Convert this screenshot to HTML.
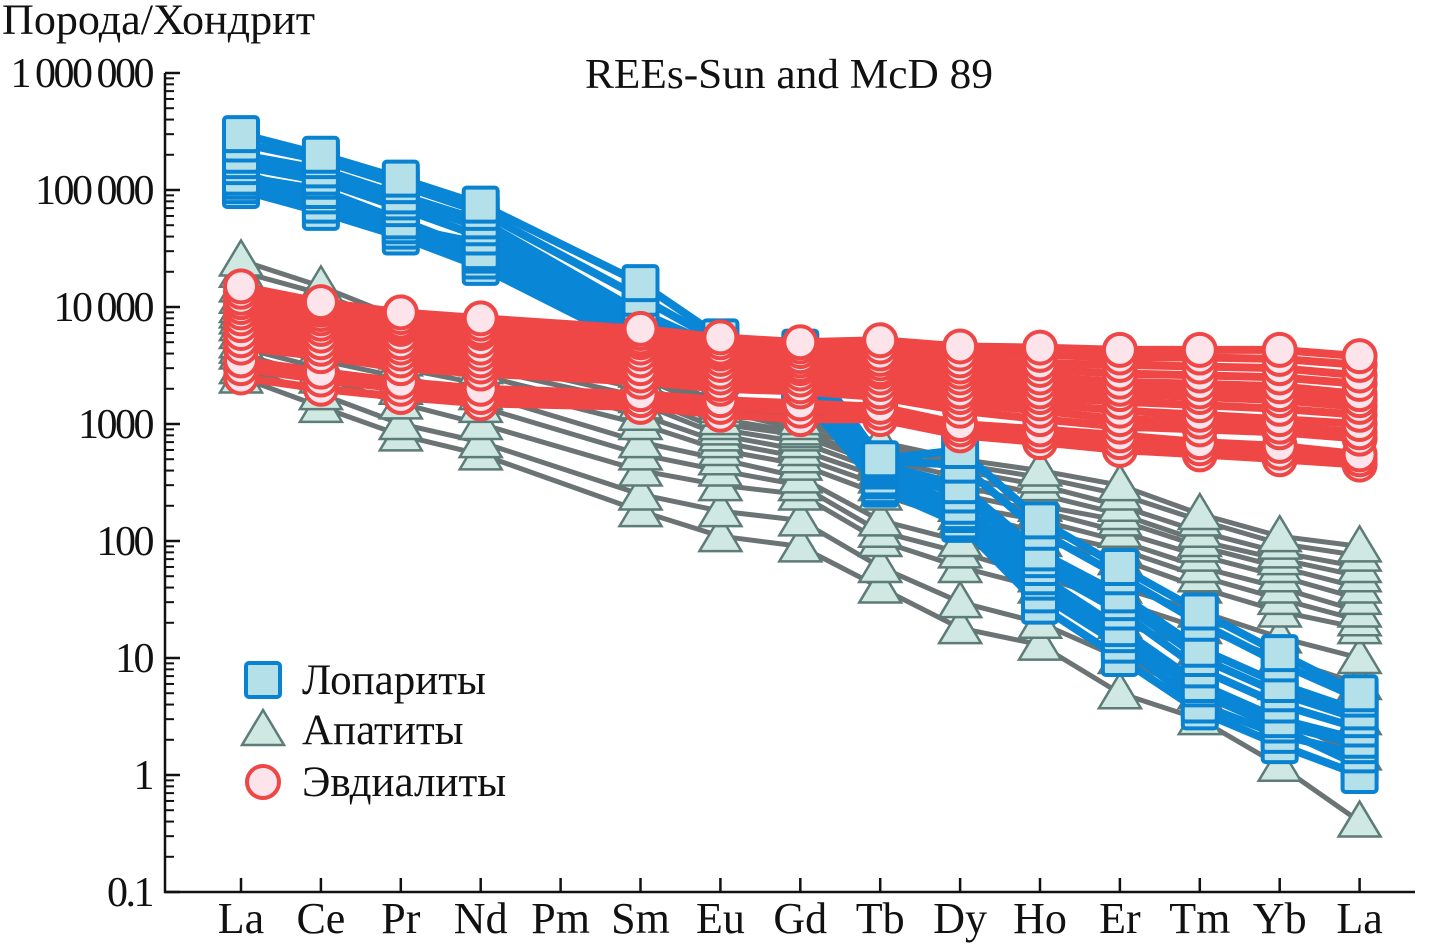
<!DOCTYPE html>
<html><head><meta charset="utf-8"><style>
body{margin:0;background:#fff;width:1450px;height:945px;overflow:hidden}
svg text{font-family:"Liberation Serif","DejaVu Serif",serif;fill:#111}
</style></head><body>
<svg id="chart" width="1450" height="945" viewBox="0 0 1450 945" xmlns="http://www.w3.org/2000/svg">
<text x="2" y="34" font-size="43" textLength="313" lengthAdjust="spacingAndGlyphs">Порода/Хондрит</text>
<text x="585" y="88" font-size="42" textLength="408" lengthAdjust="spacingAndGlyphs">REEs-Sun and McD 89</text>
<g id="axes"></g><g id="gray"></g><g id="blue"></g><g id="red"></g><g id="legend"></g>
</svg>
<script>
const categories=["La","Ce","Pr","Nd","Pm","Sm","Eu","Gd","Tb","Dy","Ho","Er","Tm","Yb","La"];
const yTicks=[0.1,1,10,100,1000,10000,100000,1000000];
const yTickLabels=["0.1","1","10","100","1000","10 000","100 000","1 000 000"];
const loparite=[
[300000,200000,125000,75000,null,16000,5500,4500,500,600,150,60,25,11,5],
[250000,180000,110000,65000,null,12000,5000,4000,480,450,120,50,20,9,4.5],
[200000,150000,90000,55000,null,9000,4500,3500,450,300,80,35,12,6,3.5],
[180000,130000,80000,48000,null,8000,4200,3200,420,250,70,30,10,5,3],
[160000,120000,70000,40000,null,7000,4000,3000,400,200,60,25,8,4,2.5],
[130000,100000,55000,30000,null,6000,3500,2500,350,180,50,18,6,3,2],
[120000,90000,50000,28000,null,5500,3200,2300,330,170,45,16,5.5,2.7,1.8],
[110000,75000,45000,25000,null,5000,3000,2000,300,150,35,13,4,2.2,1.5],
[100000,65000,40000,22000,null,4500,2500,1800,280,140,28,10,3.5,1.8,1],
[140000,85000,48000,35000,null,6500,3000,2200,320,160,40,15,5,2.5,1.2]];
const apatite=[
[25000,15000,8000,6500,null,3000,1500,1100,700,500,400,300,170,110,90],
[20000,13000,7000,5800,null,2800,1400,1000,650,450,350,250,150,95,75],
[15000,11000,6000,5000,null,2500,1300,900,600,400,300,200,120,80,60],
[12000,9500,5500,4500,null,2200,1100,850,500,350,250,170,100,70,50],
[10000,8000,5000,4000,null,2000,1000,800,450,300,200,150,90,60,40],
[9000,7000,4500,3500,null,1700,900,700,400,250,180,120,75,50,32],
[8000,6000,4000,3000,null,1500,800,600,350,200,150,100,60,40,25],
[7000,5200,3500,2600,null,1200,700,520,300,170,120,85,50,32,21],
[6000,4500,3000,2200,null,1000,600,450,250,150,100,70,40,25,18],
[5000,3500,2500,1800,null,700,500,350,150,100,60,40,25,15,10],
[4500,3000,2000,1400,null,550,400,300,120,80,50,30,18,10,6],
[4000,2500,1500,1000,null,400,300,250,100,60,40,20,12,6,3],
[3000,1800,1000,700,null,250,180,150,60,30,20,10,5,3,1.5],
[2500,1400,800,550,null,180,110,90,40,18,13,5,3,1.2,0.4]];
const eudialyte=[
[15000,11000,9000,8000,null,6500,5500,5000,5200,4600,4500,4300,4300,4300,3800],
[13500,10200,8200,7200,null,6000,5000,4600,4600,4000,3900,3700,3700,3600,3200],
[12000,9500,7500,6500,null,5500,4500,4200,4000,3500,3300,3200,3100,3000,2600],
[11000,8700,7000,6200,null,5200,4200,3800,3600,3100,2900,2700,2600,2500,2200],
[10000,8000,6500,6000,null,5000,4000,3500,3300,2800,2500,2300,2200,2100,1800],
[9000,7200,5700,5200,null,4500,3600,3200,3000,2500,2200,2000,1900,1800,1600],
[8000,6500,5000,4500,null,4000,3200,3000,2800,2200,1900,1800,1700,1600,1400],
[7000,5700,4500,4000,null,3500,2800,2700,2500,1900,1700,1550,1450,1350,1200],
[6000,5000,4000,3500,null,3000,2500,2400,2200,1700,1500,1300,1200,1100,1000],
[5200,4400,3500,3100,null,2600,2200,2100,1900,1500,1300,1100,1050,950,850],
[4500,3800,3000,2700,null,2300,2000,1900,1700,1300,1100,950,900,850,750],
[3500,2800,2300,2000,null,1800,1600,1500,1400,1000,900,800,700,650,550],
[3000,2400,2000,1700,null,1600,1400,1300,1250,900,800,700,620,570,500],
[2500,2000,1700,1500,null,1400,1200,1100,1100,800,700,600,550,500,450]];
const legendLabels=["Лопариты","Апатиты","Эвдиалиты"];

const NS="http://www.w3.org/2000/svg";
const X0=241,DX=79.9,YTOP=73,YBOT=892,X_AXIS=165,X_END=1415;
function x(i){return X0+i*DX;}
function y(v){return YBOT-(Math.log10(v)+1)*(YBOT-YTOP)/7;}
function mk(tag,attrs,parent){const e=document.createElementNS(NS,tag);for(const k in attrs)e.setAttribute(k,attrs[k]);parent.appendChild(e);return e;}
const axes=document.getElementById('axes');
const ax=mk('path',{d:`M${X_AXIS} ${YTOP}V${YBOT}H${X_END}`,fill:'none',stroke:'#111','stroke-width':2.5},axes);


yTicks.forEach((t,i)=>{
 const tk=mk('line',{x1:X_AXIS,x2:X_AXIS+15,y1:y(t),y2:y(t),stroke:'#111','stroke-width':2.5},axes);
 
 
 const lb=mk('text',{x:152,y:y(t)+14,'font-size':42,'text-anchor':'end','letter-spacing':'-2.5','word-spacing':'-2'},axes);
 lb.textContent=yTickLabels[i];
 
 
 if(i<yTicks.length-1){for(let m=2;m<=9;m++){const mt=mk('line',{x1:X_AXIS,x2:X_AXIS+9,y1:y(t*m),y2:y(t*m),stroke:'#111','stroke-width':2},axes);
 
 }}
});
categories.forEach((c,i)=>{
 const tk=mk('line',{x1:x(i),x2:x(i),y1:YBOT,y2:YBOT-14,stroke:'#111','stroke-width':2.5},axes);
 
 
 const lb=mk('text',{x:x(i),y:933,'font-size':44,'text-anchor':'middle'},axes);
 lb.textContent=c;
 
 
});
function marker(kind,cx,cy,parent){
 let e;
 if(kind==='sq'){e=mk('rect',{x:cx-17,y:cy-17,width:34,height:34,rx:3,fill:'#b3e0e9',stroke:'#0a82d2','stroke-width':4},parent);}
 else if(kind==='tri'){e=mk('polygon',{points:`${cx},${cy-20} ${cx+21},${cy+15} ${cx-21},${cy+15}`,fill:'#cfe9e2',stroke:'#5d7b77','stroke-width':2.5},parent);}
 else {e=mk('circle',{cx:cx,cy:cy,r:16,fill:'#fde4ea',stroke:'#ef4646','stroke-width':4},parent);}
 return e;
}
function drawGroup(data,gid,color,w,kind,name){
 const g=document.getElementById(gid);
 data.forEach(s=>{
  const pts=[];s.forEach((v,i)=>{if(v!==null)pts.push(x(i).toFixed(1)+','+y(v).toFixed(1));});
  const pl=mk('polyline',{points:pts.join(' '),fill:'none',stroke:color,'stroke-width':w,'stroke-linejoin':'round'},g);
  
  
 });
 data.slice().reverse().forEach(s=>{s.forEach((v,i)=>{if(v!==null){const m=marker(kind,x(i),y(v),g);
  
  }});});
}
drawGroup(apatite,'gray','#6b7374',5,'tri','apatite');
drawGroup(loparite,'blue','#0a86d6',8,'sq','loparite');
drawGroup(eudialyte,'red','#ef4646',8,'circ','eudialyte');
const lg=document.getElementById('legend');
const kinds=['sq','tri','circ'];const ly=[680,730,782];
kinds.forEach((k,i)=>{
 const m=marker(k,263,ly[i],lg);
 
 
 const t=mk('text',{x:302,y:ly[i]+14,'font-size':43},lg);
 t.textContent=legendLabels[i];
 
 
});
</script>
</body></html>
